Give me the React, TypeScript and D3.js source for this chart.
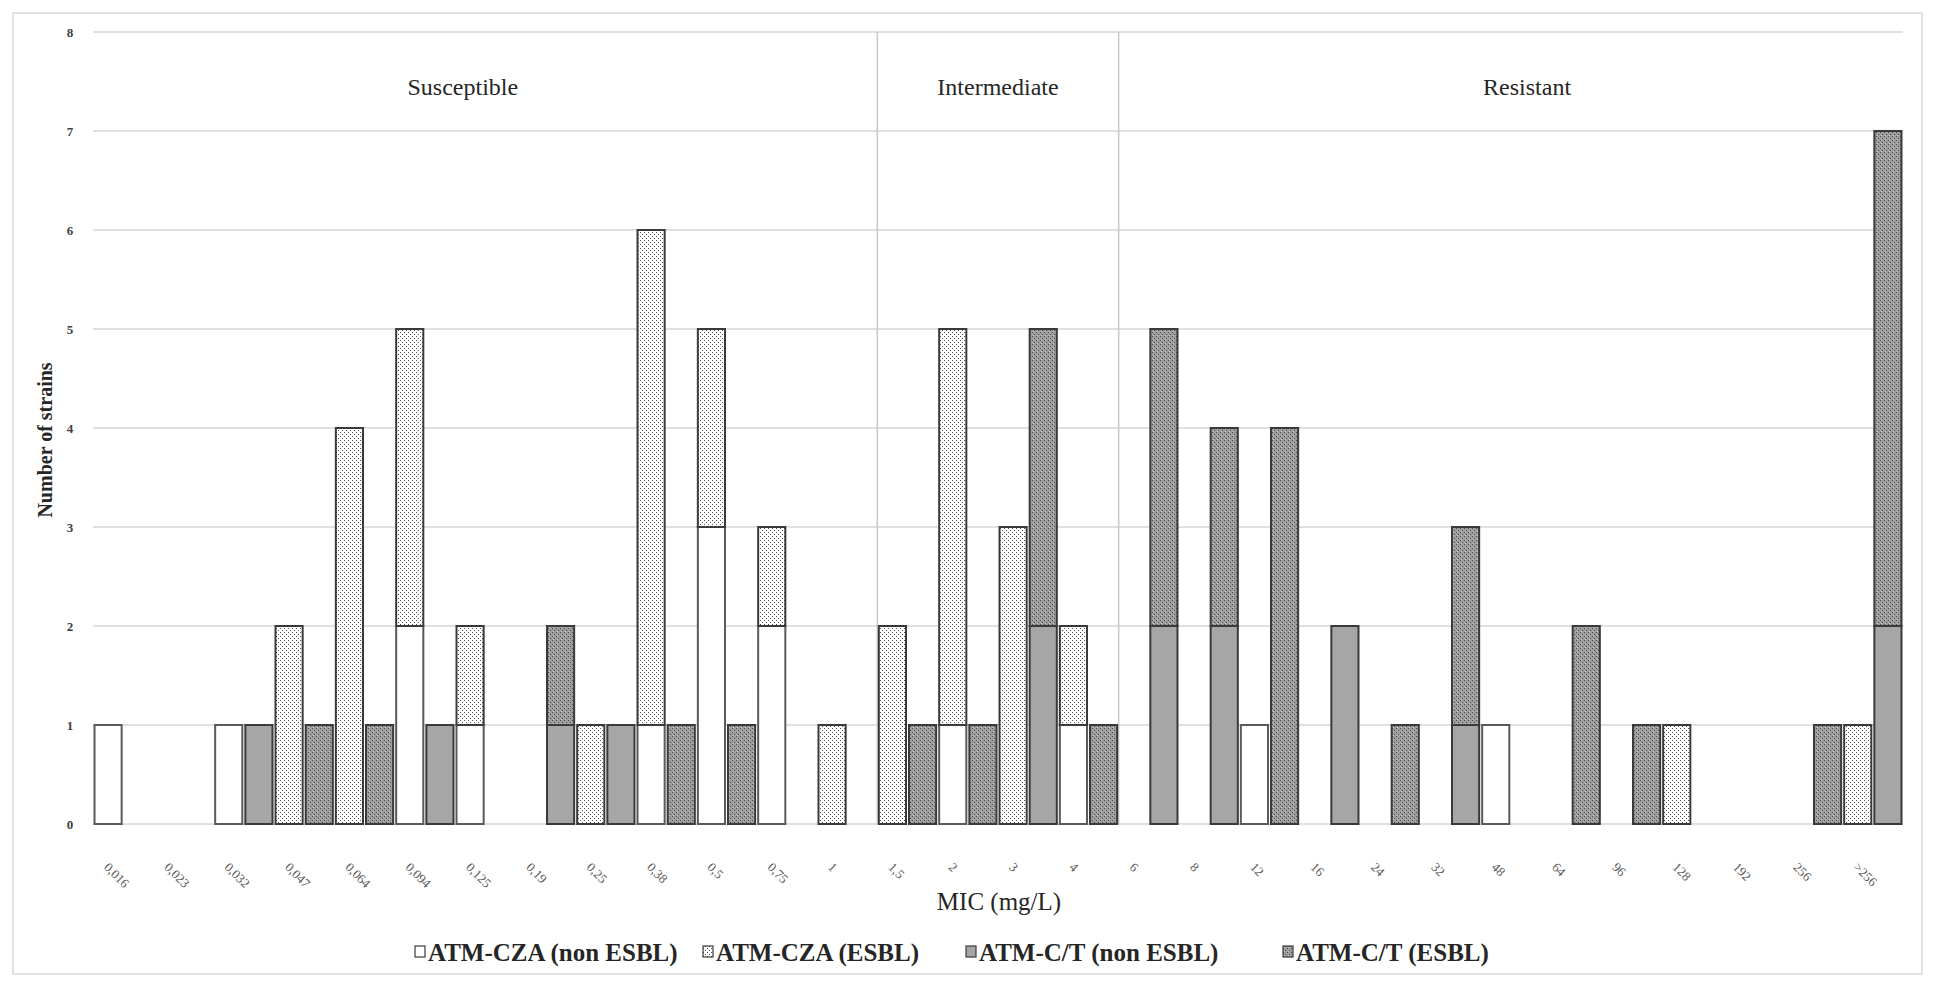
import React, { useEffect, useRef } from 'react';
import * as d3 from 'd3';

// MIC categories (decimal comma as in the original)
const categories = [
  '0,016', '0,023', '0,032', '0,047', '0,064', '0,094', '0,125', '0,19', '0,25', '0,38',
  '0,5', '0,75', '1', '1,5', '2', '3', '4', '6', '8', '12',
  '16', '24', '32', '48', '64', '96', '128', '192', '256', '>256',
];

const czaNonEsbl = [1, 0, 1, 0, 0, 2, 1, 0, 0, 1, 3, 2, 0, 0, 1, 0, 1, 0, 0, 1, 0, 0, 0, 1, 0, 0, 0, 0, 0, 0];
const czaEsbl = [0, 0, 0, 2, 4, 3, 1, 0, 1, 5, 2, 1, 1, 2, 4, 3, 1, 0, 0, 0, 0, 0, 0, 0, 0, 0, 1, 0, 0, 1];
const ctNonEsbl = [0, 0, 1, 0, 0, 1, 0, 1, 1, 0, 0, 0, 0, 0, 0, 2, 0, 2, 2, 0, 2, 0, 1, 0, 0, 0, 0, 0, 0, 2];
const ctEsbl = [0, 0, 0, 1, 1, 0, 0, 1, 0, 1, 1, 0, 0, 1, 1, 3, 1, 3, 2, 4, 0, 1, 2, 0, 2, 1, 0, 0, 1, 5];

const yTicks = [0, 1, 2, 3, 4, 5, 6, 7, 8];

const legendLabels = ['ATM-CZA (non ESBL)', 'ATM-CZA (ESBL)', 'ATM-C/T (non ESBL)', 'ATM-C/T (ESBL)'];
const legendX = [415, 703, 966, 1283];

const sectionNames = ['Susceptible', 'Intermediate', 'Resistant'];
const sectionStarts = [0, 13, 17];
const sectionLabelAt = [6.13, 15, 23.77];

const W = 1933;
const H = 981;
const FONT = '"Liberation Serif", "Times New Roman", serif';

const seriesFill = ['#ffffff', 'url(#dotsWhite)', '#a6a6a6', 'url(#dotsGray)'];
const seriesStroke = ['#5a5a5a', '#3a3a3a', '#3a3a3a', '#3a3a3a'];

export default function App() {
  const svgRef = useRef<SVGSVGElement>(null);

  useEffect(() => {
    document.body.style.margin = '0';
    if (!svgRef.current) return;
    const svg = d3.select(svgRef.current);
    svg.selectAll('g.chart').remove();

    const plot = { left: 93, right: 1903, top: 32, bottom: 824 };

    const x = d3.scaleBand<string>().domain(categories).range([plot.left, plot.right]).padding(0);
    const inner = d3.scaleBand<string>()
      .domain(['CZA', 'CT'])
      .range([0, x.bandwidth()])
      .paddingInner(0.1)
      .paddingOuter(0.05);
    const y = d3.scaleLinear().domain([0, 8]).range([plot.bottom, plot.top]);

    const g = svg.append('g').attr('class', 'chart');

    // outer frame
    g.append('rect')
      .attr('x', 13).attr('y', 13)
      .attr('width', W - 24).attr('height', H - 20)
      .attr('fill', 'none')
      .attr('stroke', '#d9d9d9')
      .attr('stroke-width', 1.5);

    // horizontal grid lines
    g.append('g')
      .selectAll('line')
      .data(yTicks)
      .join('line')
      .attr('x1', plot.left)
      .attr('x2', plot.right)
      .attr('y1', d => y(d))
      .attr('y2', d => y(d))
      .attr('stroke', '#d6d6d6')
      .attr('stroke-width', 1.5);

    // y tick labels
    g.append('g')
      .selectAll('text')
      .data(yTicks)
      .join('text')
      .attr('x', 70)
      .attr('y', d => y(d))
      .attr('dy', '0.35em')
      .attr('text-anchor', 'middle')
      .attr('font-family', FONT)
      .attr('font-size', 13)
      .attr('font-weight', 'bold')
      .attr('fill', '#404040')
      .text(d => String(d));

    // section dividers
    g.append('g')
      .selectAll('line')
      .data(sectionStarts.slice(1))
      .join('line')
      .attr('x1', d => x(categories[d]) as number)
      .attr('x2', d => x(categories[d]) as number)
      .attr('y1', y(8))
      .attr('y2', y(0))
      .attr('stroke', '#c8c8c8')
      .attr('stroke-width', 1.5);

    // section labels
    g.append('g')
      .selectAll('text')
      .data(sectionNames)
      .join('text')
      .attr('x', (_, i) => plot.left + sectionLabelAt[i] * x.step())
      .attr('y', y(7.45))
      .attr('dy', '0.35em')
      .attr('text-anchor', 'middle')
      .attr('font-family', FONT)
      .attr('font-size', 24)
      .attr('fill', '#262626')
      .text(d => d);

    // stacked bars
    type Row = { cat: string; non: number; esbl: number };
    const czaRows: Row[] = categories.map((c, i) => ({ cat: c, non: czaNonEsbl[i], esbl: czaEsbl[i] }));
    const ctRows: Row[] = categories.map((c, i) => ({ cat: c, non: ctNonEsbl[i], esbl: ctEsbl[i] }));
    const stack = d3.stack<Row>().keys(['non', 'esbl']);

    const groups = [
      { key: 'CZA', layers: stack(czaRows), offset: 0 },
      { key: 'CT', layers: stack(ctRows), offset: 2 },
    ];

    groups.forEach(grp => {
      grp.layers.forEach((layer, li) => {
        const si = grp.offset + li;
        g.append('g')
          .selectAll('rect')
          .data(layer.filter(d => d[1] - d[0] > 0))
          .join('rect')
          .attr('x', d => (x(d.data.cat) as number) + (inner(grp.key) as number))
          .attr('y', d => y(d[1]))
          .attr('width', inner.bandwidth())
          .attr('height', d => y(d[0]) - y(d[1]))
          .attr('fill', seriesFill[si])
          .attr('stroke', seriesStroke[si])
          .attr('stroke-width', 2);
      });
    });

    // x tick labels (rotated)
    g.append('g')
      .selectAll('text')
      .data(categories)
      .join('text')
      .attr('transform', d => {
        const cx = (x(d) as number) + x.bandwidth() / 2 - 20;
        return `translate(${cx},${plot.bottom + 44}) rotate(45)`;
      })
      .attr('font-family', FONT)
      .attr('font-size', 13)
      .attr('fill', '#595959')
      .text(d => d);

    // axis titles
    g.append('text')
      .attr('x', 999)
      .attr('y', 901)
      .attr('dy', '0.35em')
      .attr('text-anchor', 'middle')
      .attr('font-family', FONT)
      .attr('font-size', 25)
      .attr('fill', '#262626')
      .text('MIC (mg/L)');

    g.append('text')
      .attr('transform', `translate(45,${(plot.top + plot.bottom) / 2 + 12}) rotate(-90)`)
      .attr('dy', '0.35em')
      .attr('text-anchor', 'middle')
      .attr('font-family', FONT)
      .attr('font-size', 20)
      .attr('font-weight', 'bold')
      .attr('fill', '#262626')
      .text('Number of strains');

    // legend
    const legend = g.append('g')
      .selectAll('g')
      .data(legendLabels)
      .join('g')
      .attr('transform', (_, i) => `translate(${legendX[i]},952)`);

    legend.append('rect')
      .attr('x', 0)
      .attr('y', -6)
      .attr('width', 10)
      .attr('height', 11)
      .attr('fill', (_, i) => seriesFill[i])
      .attr('stroke', '#3a3a3a')
      .attr('stroke-width', 1.2);

    legend.append('text')
      .attr('x', 13)
      .attr('y', 0)
      .attr('dy', '0.35em')
      .attr('font-family', FONT)
      .attr('font-size', 25)
      .attr('font-weight', 'bold')
      .attr('fill', '#262626')
      .text(d => d);
  }, []);

  return (
    <svg ref={svgRef} width={W} height={H} style={{ display: 'block', background: '#fff' }}>
      <defs>
        <pattern id="dotsWhite" width={4} height={4} patternUnits="userSpaceOnUse">
          <rect width={4} height={4} fill="#ffffff" />
          <rect x={0} y={0} width={1} height={1} fill="#505050" />
          <rect x={2} y={2} width={1} height={1} fill="#505050" />
        </pattern>
        <pattern id="dotsGray" width={4} height={4} patternUnits="userSpaceOnUse">
          <rect width={4} height={4} fill="#9e9e9e" />
          <rect x={0} y={0} width={1} height={1} fill="#4a4a4a" />
          <rect x={2} y={2} width={1} height={1} fill="#4a4a4a" />
          <rect x={1} y={3} width={1} height={1} fill="#c8c8c8" />
        </pattern>
      </defs>
    </svg>
  );
}
